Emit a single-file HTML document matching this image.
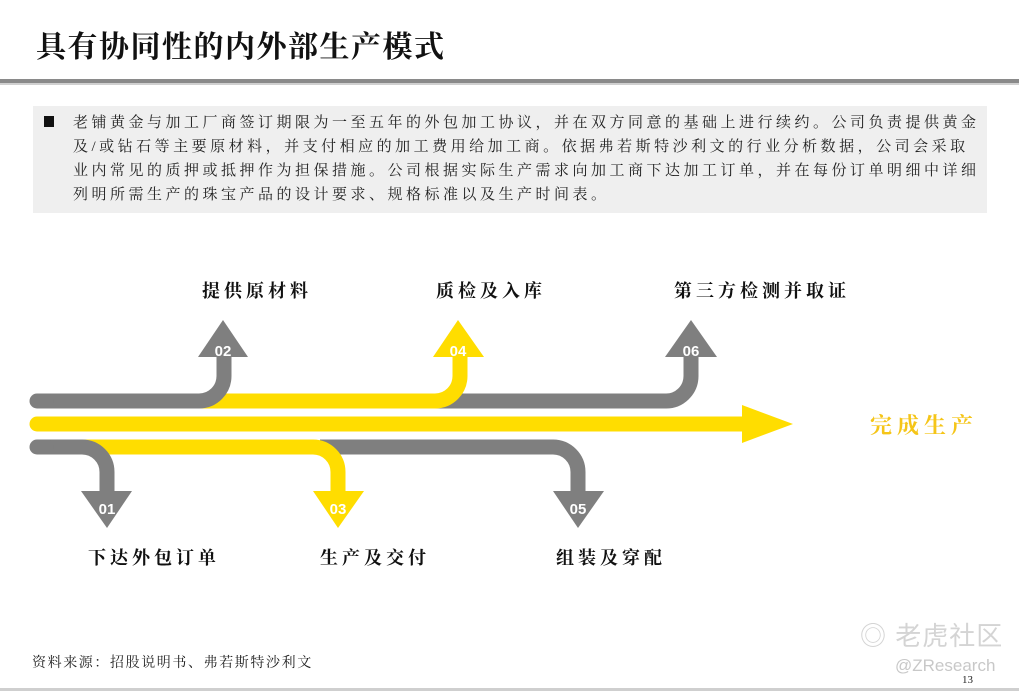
<!DOCTYPE html>
<html><head><meta charset="utf-8"><style>
body{margin:0;width:1019px;height:691px;background:#fff;position:relative;overflow:hidden;font-family:"Liberation Serif","Noto Serif CJK SC",serif}
.a{position:absolute;white-space:nowrap}
.lbl{font-size:18px;font-weight:bold;letter-spacing:4px;color:#111;line-height:20px}
</style></head><body>
<div class="a" style="left:36px;top:28px;font-size:30px;font-weight:bold;letter-spacing:1.5px;color:#111;line-height:40px">具有协同性的内外部生产模式</div>
<div class="a" style="left:0;top:79px;width:1019px;height:4px;background:#8a8a8a"></div>
<div class="a" style="left:0;top:83px;width:1019px;height:2px;background:#d0d0d0"></div>
<div class="a" style="left:33px;top:106px;width:954px;height:107px;background:#efefef"></div>
<div class="a" style="left:44px;top:116px;width:10px;height:11px;background:#111"></div>
<div class="a" style="left:73px;top:111px;font-size:15px;letter-spacing:3.5px;line-height:24px;color:#222">老铺黄金与加工厂商签订期限为一至五年的外包加工协议，并在双方同意的基础上进行续约。公司负责提供黄金<br>及/或钻石等主要原材料，并支付相应的加工费用给加工商。依据弗若斯特沙利文的行业分析数据，公司会采取<br>业内常见的质押或抵押作为担保措施。公司根据实际生产需求向加工商下达加工订单，并在每份订单明细中详细<br>列明所需生产的珠宝产品的设计要求、规格标准以及生产时间表。</div>

<svg class="a" style="left:0;top:0" width="1019" height="691">
<g fill="none" stroke-width="15" stroke-linecap="butt">
<path d="M200 401 L665 401 A25 25 0 0 0 691 376 L691 356" stroke="#7f7f7f"/>
<path d="M200 401 L435 401 A25 25 0 0 0 460 376 L460 356" stroke="#ffdd00"/>
<path d="M44 401 L199 401 A25 25 0 0 0 224 376 L224 356" stroke="#7f7f7f"/>
<line x1="37" y1="401" x2="46" y2="401" stroke="#7f7f7f" stroke-linecap="round"/>
<line x1="44" y1="424" x2="745" y2="424" stroke="#ffdd00"/>
<line x1="37" y1="424" x2="46" y2="424" stroke="#ffdd00" stroke-linecap="round"/>
<path d="M320 447 L553 447 A25 25 0 0 1 578 472 L578 492" stroke="#7f7f7f"/>
<path d="M78 447 L313 447 A25 25 0 0 1 338 472 L338 492" stroke="#ffdd00"/>
<path d="M44 447 L82 447 A25 25 0 0 1 107 472 L107 492" stroke="#7f7f7f"/>
<line x1="37" y1="447" x2="46" y2="447" stroke="#7f7f7f" stroke-linecap="round"/>
</g>
<polygon points="198,357 248,357 223,320" fill="#7f7f7f"/>
<polygon points="433,357 484,357 458,320" fill="#ffdd00"/>
<polygon points="665,357 717,357 691,320" fill="#7f7f7f"/>
<polygon points="742,405 742,443 793,424" fill="#ffdd00"/>
<polygon points="81,491 132,491 107,528" fill="#7f7f7f"/>
<polygon points="313,491 364,491 338,528" fill="#ffdd00"/>
<polygon points="553,491 604,491 578,528" fill="#7f7f7f"/>
<g font-family="Liberation Sans,sans-serif" font-size="15" font-weight="bold" fill="#fff" text-anchor="middle">
<text x="223" y="356">02</text><text x="458" y="356">04</text><text x="691" y="356">06</text>
<text x="107" y="514">01</text><text x="338" y="514">03</text><text x="578" y="514">05</text>
</g>
</svg>

<div class="a lbl" style="left:202px;top:281px">提供原材料</div>
<div class="a lbl" style="left:436px;top:281px">质检及入库</div>
<div class="a lbl" style="left:674px;top:281px">第三方检测并取证</div>
<div class="a lbl" style="left:88px;top:548px">下达外包订单</div>
<div class="a lbl" style="left:320px;top:548px">生产及交付</div>
<div class="a lbl" style="left:556px;top:548px">组装及穿配</div>
<div class="a" style="left:870px;top:412px;font-size:22px;font-weight:bold;letter-spacing:5px;color:#f5c518;line-height:28px">完成生产</div>

<div class="a" style="left:32px;top:652px;font-size:14px;letter-spacing:1.6px;color:#222">资料来源：招股说明书、弗若斯特沙利文</div>
<div class="a" style="left:860px;top:616px;font-family:'Liberation Sans','Noto Sans CJK SC',sans-serif;font-size:26px;color:#d4d4d4;letter-spacing:1px">◎ 老虎社区</div>
<div class="a" style="left:895px;top:656px;font-family:'Liberation Sans',sans-serif;font-size:17px;color:#c8c8c8">@ZResearch</div>
<div class="a" style="left:962px;top:674px;font-size:11px;color:#222">13</div>
<div class="a" style="left:0;top:688px;width:1019px;height:3px;background:#cfcfcf"></div>
</body></html>
